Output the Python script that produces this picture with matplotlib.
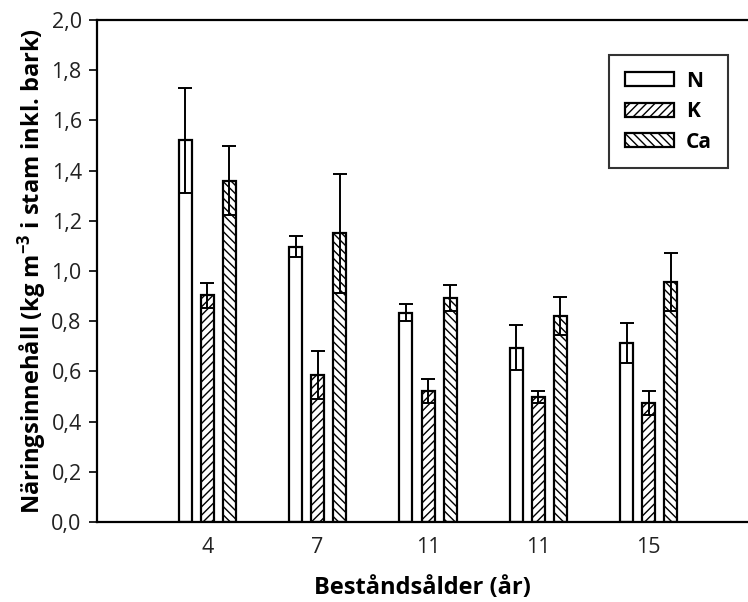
import matplotlib
matplotlib.use("Agg")
import matplotlib.pyplot as plt
import numpy as np

plt.rcParams["font.family"] = ["Open Sans", "DejaVu Sans"]
plt.rcParams["mathtext.fontset"] = "custom"
plt.rcParams["mathtext.bf"] = "Open Sans:bold"
plt.rcParams["mathtext.rm"] = "Open Sans"
plt.rcParams["mathtext.default"] = "bf"
plt.rcParams["hatch.linewidth"] = 1.0

# data
ages = ["4", "7", "11", "11", "15"]
series = ["N", "K", "Ca"]
n_vals = [1.52, 1.097, 0.834, 0.694, 0.712]
n_err = [0.21, 0.042, 0.033, 0.09, 0.08]
k_vals = [0.904, 0.586, 0.522, 0.498, 0.474]
k_err = [0.05, 0.096, 0.049, 0.024, 0.048]
ca_vals = [1.36, 1.150, 0.894, 0.821, 0.957]
ca_err = [0.137, 0.236, 0.052, 0.077, 0.116]
yticks = [0.0, 0.2, 0.4, 0.6, 0.8, 1.0, 1.2, 1.4, 1.6, 1.8, 2.0]
ytick_labels = ["0,0", "0,2", "0,4", "0,6", "0,8", "1,0", "1,2", "1,4",
                "1,6", "1,8", "2,0"]

hatches = ["", "////", "\\\\\\\\"]
values = [n_vals, k_vals, ca_vals]
errors = [n_err, k_err, ca_err]

fig = plt.figure(figsize=(7.48, 6.02), dpi=100)
ax = fig.add_axes([97 / 748, 80 / 602, 1 - 97 / 748, 502 / 602])

x = np.arange(len(ages))
width = 0.118
offset = 0.2
for i, (lab, v, e, h) in enumerate(zip(series, values, errors, hatches)):
    pos = x + (i - 1) * offset
    ax.bar(pos, v, width, color="white", edgecolor="black", linewidth=1.6,
           hatch=h, label=lab, zorder=2)
    ax.errorbar(pos, v, yerr=e, fmt="none", ecolor="black", elinewidth=1.4,
                capsize=4.7, capthick=1.4, zorder=3)

ax.set_xlim(-1.0, 4.9)
ax.set_ylim(0, 2.0)
ax.set_xticks(x)
ax.set_xticklabels(ages)
ax.set_yticks(yticks)
ax.set_yticklabels(ytick_labels)
ax.tick_params(axis="x", length=0, pad=11, labelsize=15.5)
ax.tick_params(axis="y", direction="out", length=6, width=1.2, pad=5,
               labelsize=15.5)
ax.tick_params(axis="both", labelcolor="#222222", color="black")

for s in ["left", "bottom", "top"]:
    ax.spines[s].set_linewidth(1.6)
ax.spines["right"].set_visible(False)

ax.set_xlabel("Beståndsålder (år)", fontsize=17, fontweight="bold",
              labelpad=13)
ax.set_ylabel(r"Näringsinnehåll (kg m$^{-3}$ i stam inkl. bark)",
              fontsize=17, fontweight="bold", labelpad=2)

leg = ax.legend(loc="upper right", bbox_to_anchor=(0.969, 0.930),
                prop={"weight": "bold", "size": 15},
                frameon=True, fancybox=False, edgecolor="black",
                handlelength=2.35, handleheight=0.65, borderpad=0.75,
                labelspacing=0.45, handletextpad=0.6, borderaxespad=0)
leg.get_frame().set_linewidth(1.5)

fig.savefig("out.png", dpi=100)
